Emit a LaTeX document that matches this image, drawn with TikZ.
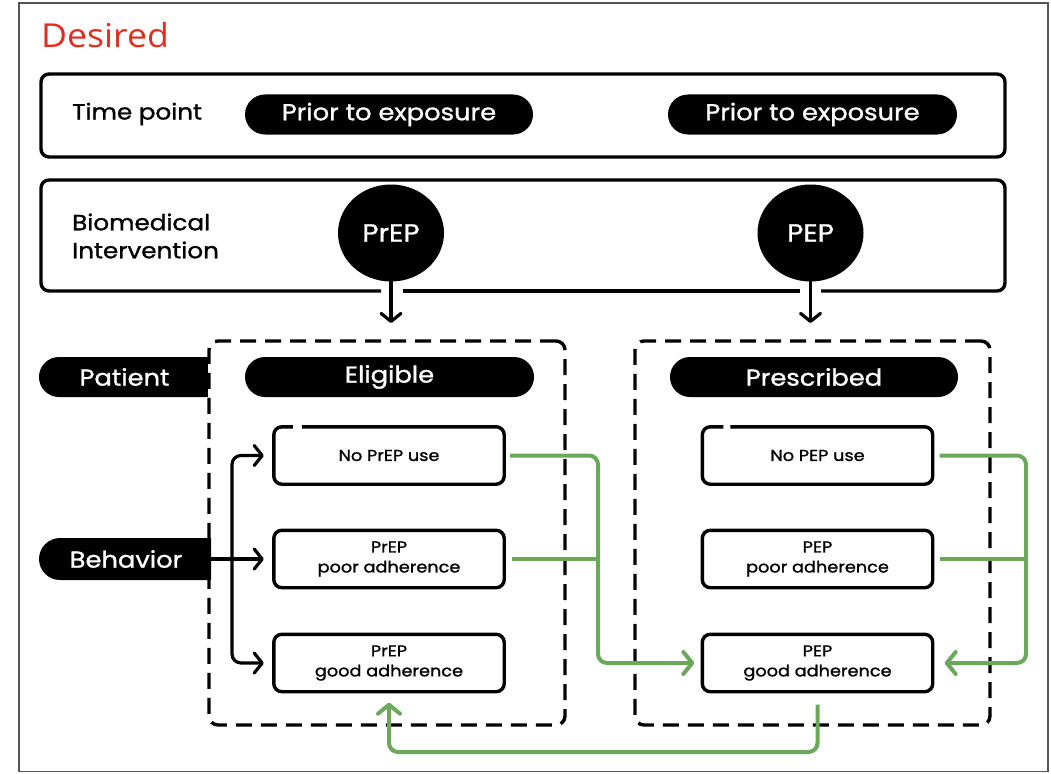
\documentclass[tikz,border=0pt]{standalone}
\usepackage{fontspec}
\setmainfont{Poppins}[FakeStretch=1.12, FakeBold=1.2]
\newfontfamily\titlefont{Open Sans}[FakeStretch=1.08]
\usetikzlibrary{arrows.meta,shapes.misc,shapes.geometric}
\definecolor{ttlred}{HTML}{E52B1E}
\definecolor{grn}{HTML}{6BA85B}
\definecolor{frm}{HTML}{555555}
\begin{document}
\begin{tikzpicture}[x=1pt,y=-1pt,
  panel/.style={line width=3.4pt, rounded corners=8pt},
  pill/.style={rounded rectangle, fill=black, text=white, minimum height=40pt, inner sep=0pt, font=\fontsize{23}{26}\selectfont},
  halfpill/.style={pill, rounded rectangle right arc=none},
  lbl/.style={anchor=west, inner sep=0pt, align=left, font=\fontsize{22}{28}\selectfont},
  ball/.style={ellipse, fill=black, text=white, minimum width=106pt, minimum height=97pt, inner sep=0pt, font=\fontsize{25}{28}\selectfont},
  dashbox/.style={draw, line width=3.4pt, dash pattern=on 16pt off 9pt, rounded corners=9pt, minimum width=356pt, minimum height=384pt, inner sep=0pt},
  sbox/.style={minimum width=230pt, minimum height=57pt, inner sep=0pt, align=center, font=\fontsize{15.8}{20}\selectfont},
  sline/.style={line width=3.4pt, rounded corners=8pt},
  barrow/.style={line width=3.2pt, rounded corners=9pt, line cap=round, -{Straight Barb[length=8pt,width=20pt,line cap=round,line join=round]}},
  gline/.style={draw=grn, line width=4pt, rounded corners=9pt},
  garrow/.style={gline, -{Straight Barb[length=9pt,width=22pt,line cap=round,line join=round]}}
]
\useasboundingbox (0,0) rectangle (1051,773);
\draw[frm, line width=1.4pt] (19,3) rectangle (1048,771.5);

\node[anchor=west, inner sep=0pt, text=ttlred, font=\titlefont\fontsize{33}{36}\selectfont] (title) at (41,35) {Desired};

% time point panel
\node[draw, panel, minimum width=964pt, minimum height=83pt, inner sep=0pt] (tp) at (523,115.5) {};
\node[lbl] (tplbl) at (72,114) {Time point};
\node[pill, minimum width=288pt] (pre1) at (389,114.5) {Prior to exposure};
\node[pill, minimum width=289pt] (pre2) at (812.5,114.5) {Prior to exposure};

% biomedical intervention panel
\draw[panel] (381,291) -| (41,180) -| (1005,291) -- (821,291);
\draw[panel] (403,291) -- (800,291);
\node[lbl] (bilbl) at (72,236) {Biomedical\\Intervention};
\node[ball] (prep) at (391,233) {PrEP};
\node[ball] (pep) at (810.5,233) {PEP};
\coordinate (tipL) at (391,323);
\coordinate (tipR) at (810.5,323);
\draw[barrow] (prep.south) -- (tipL);
\draw[barrow] (pep.south) -- (tipR);

% dashed groups
\node[dashbox] (dashL) at (387,533) {};
\node[dashbox, minimum width=355pt] (dashR) at (812.5,533) {};

% row labels
\node[halfpill, minimum width=169pt] (patient) at (124.5,377) {Patient};
\node[halfpill, minimum width=172pt, minimum height=42pt] (behav) at (126,559) {Behavior};
\node[pill, minimum width=289pt] (elig) at (389.5,377) {Eligible};
\node[pill, minimum width=288pt] (presc) at (814,377) {Prescribed};

% behaviour boxes
\node[sbox] (b1) at (389,455.5) {No PrEP use};
\node[sbox] (b2) at (389,559) {PrEP\\poor adherence};
\node[sbox] (b3) at (389,663) {PrEP\\good adherence};
\node[sbox] (p1) at (817.5,455.5) {No PEP use};
\node[sbox] (p2) at (817.5,559) {PEP\\poor adherence};
\node[sbox] (p3) at (817.5,663) {PEP\\good adherence};

% box borders with small hand-drawn gaps
\draw[sline] ([xshift=28pt]b1.north west) -| (b1.south east) -| (b1.north west) -- ([xshift=19pt]b1.north west);
\draw[sline] ([xshift=-18pt]b2.north east) -| (b2.south west) -| (b2.north east) -- ([xshift=-32pt]b2.north east);
\draw[sline] ([xshift=20pt]b3.south west) -| (b3.north east) -| (b3.south west) -- ([xshift=29pt]b3.south west);
\draw[sline] ([xshift=28pt]p1.north west) -| (p1.south east) -| (p1.north west) -- ([xshift=21pt]p1.north west);
\draw[sline] ([xshift=-14pt]p2.north east) -| (p2.south west) -| (p2.north east) -- ([xshift=-22pt]p2.north east);
\draw[sline] ([xshift=21pt]p3.south west) -| (p3.north east) -| (p3.south west) -- ([xshift=28pt]p3.south west);

% black distribution arrows
\coordinate (split) at (232,559);
\draw[barrow, shorten >=10pt] (behav.east) -- (b2.west);
\draw[barrow, shorten >=10pt] (split) |- (b1.west);
\draw[barrow, shorten >=10pt] (split) |- (b3.west);

% green transitions
\coordinate (jL) at (598,560);
\coordinate (jR) at (1026,560);
\coordinate (bot) at (600,752);
\draw[garrow, shorten <=6pt, shorten >=8pt] (b1.east) -| (jL) |- (p3.west);
\draw[gline, shorten <=8pt] (b2.east) -- (b2.east -| jL);
\draw[garrow, shorten <=7pt, shorten >=12pt] (p1.east) -| (jR) |- (p3.east);
\draw[gline, shorten <=7pt] (p2.east) -- (p2.east -| jR);
\draw[garrow, shorten <=13pt, shorten >=11pt] (p3.south) |- (bot) -| (b3.south);
\end{tikzpicture}
\end{document}
